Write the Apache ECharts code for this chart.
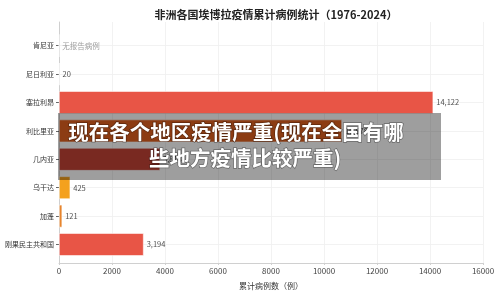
<!DOCTYPE html>
<html>
<head>
<meta charset="utf-8">
<script src="https://cdn.jsdelivr.net/npm/echarts@6/dist/echarts.min.js"></script>
<style>
  html, body { margin: 0; padding: 0; background: #fff; }
  #main { width: 500px; height: 295px; }
</style>
</head>
<body>
<div id="main"></div>
<script>
// 各国累计病例（1976-2024）
var countries = ['肯尼亚', '尼日利亚', '塞拉利昂', '利比里亚', '几内亚', '乌干达', '加蓬', '刚果民主共和国'];
var cases = [0, 20, 14122, 10678, 3814, 425, 121, 3194];
var barColors = ['#f5b041', '#f5b041', '#e74c3c', '#e05a14', '#c0392b', '#f39c12', '#e67e22', '#e74c3c'];
var xTicks = [0, 2000, 4000, 6000, 8000, 10000, 12000, 14000, 16000];

var chart = echarts.init(document.getElementById('main'));
var font = '"Noto Sans CJK SC", "Noto Sans", sans-serif';

function fmt(v) {
    return String(v).replace(/\B(?=(\d{3})+(?!\d))/g, ',');
}

var barData = [];
for (var i = 0; i < cases.length; i++) {
    var item = { value: cases[i], itemStyle: { color: barColors[i] } };
    if (cases[i] === 0) {
        item.label = { formatter: '无报告病例', color: '#999' };
    }
    barData.push(item);
}

var option = {
    backgroundColor: '#fff',
    textStyle: { fontFamily: font },
    title: {
        text: '非洲各国埃博拉疫情累计病例统计（1976-2024）',
        left: 271,
        top: 4,
        textAlign: 'center',
        textStyle: { fontSize: 11, fontWeight: 'bold', color: '#222', fontFamily: font }
    },
    grid: [
        { left: 59, right: 17, top: 22, bottom: 28 },
        { left: 59, right: 17, top: 31.5, bottom: 36.3 }
    ],
    xAxis: [{
        gridIndex: 0,
        type: 'value',
        min: 0,
        max: 16000,
        interval: 2000,
        name: '累计病例数（例）',
        nameLocation: 'middle',
        nameGap: 19,
        nameTextStyle: { fontSize: 8, color: '#333' },
        axisLine: { show: true, lineStyle: { color: '#d0d0d0' } },
        axisTick: { show: true, length: 2, lineStyle: { color: '#d0d0d0' } },
        axisLabel: { fontSize: 8, color: '#444', margin: 4,
            formatter: function (v) { return xTicks.indexOf(v) >= 0 ? String(v) : ''; } },
        splitLine: { show: true, lineStyle: { color: '#efefef', width: 0.8 } }
    }, {
        gridIndex: 1,
        type: 'value',
        min: 0,
        max: 16000,
        show: false
    }],
    yAxis: [{
        gridIndex: 0,
        type: 'value',
        axisLine: { show: true, lineStyle: { color: '#cfcfcf' } },
        axisLabel: { show: false },
        axisTick: { show: false },
        splitLine: { show: false }
    }, {
        gridIndex: 1,
        type: 'category',
        inverse: true,
        data: countries,
        axisLine: { show: false },
        axisTick: { show: true, alignWithLabel: true, length: 3, inside: false, lineStyle: { color: '#666' } },
        axisLabel: { fontSize: 7, color: '#333', margin: 5 },
        splitLine: { show: true, alignWithLabel: true, lineStyle: { color: '#efefef', width: 0.8 } }
    }],
    series: [{
        type: 'bar',
        xAxisIndex: 1,
        yAxisIndex: 1,
        data: barData,
        barCategoryGap: '20%',
        itemStyle: { borderColor: '#fff', borderWidth: 0.6, opacity: 0.95 },
        label: {
            show: true,
            position: 'right',
            distance: 3,
            fontSize: 7.5,
            color: '#444',
            formatter: function (p) { return fmt(p.value); }
        }
    }],
    graphic: [{
        type: 'rect',
        shape: { x: 58, y: 113, width: 383, height: 67 },
        style: { fill: 'rgba(0,0,0,0.38)' },
        z: 100
    }, {
        type: 'text',
        x: 236,
        y: 132,
        style: {
            text: '现在各个地区疫情严重(现在全国有哪',
            fill: '#fff',
            font: 'bold 20.5px "Noto Sans CJK SC"',
            textAlign: 'center',
            textVerticalAlign: 'middle',
            stroke: 'rgba(0,0,0,0.35)',
            lineWidth: 1.5
        },
        z: 101
    }, {
        type: 'text',
        x: 245,
        y: 158,
        style: {
            text: '些地方疫情比较严重)',
            fill: '#fff',
            font: 'bold 20.5px "Noto Sans CJK SC"',
            textAlign: 'center',
            textVerticalAlign: 'middle',
            stroke: 'rgba(0,0,0,0.35)',
            lineWidth: 1.5
        },
        z: 101
    }]
};

chart.setOption(option);
</script>
</body>
</html>
